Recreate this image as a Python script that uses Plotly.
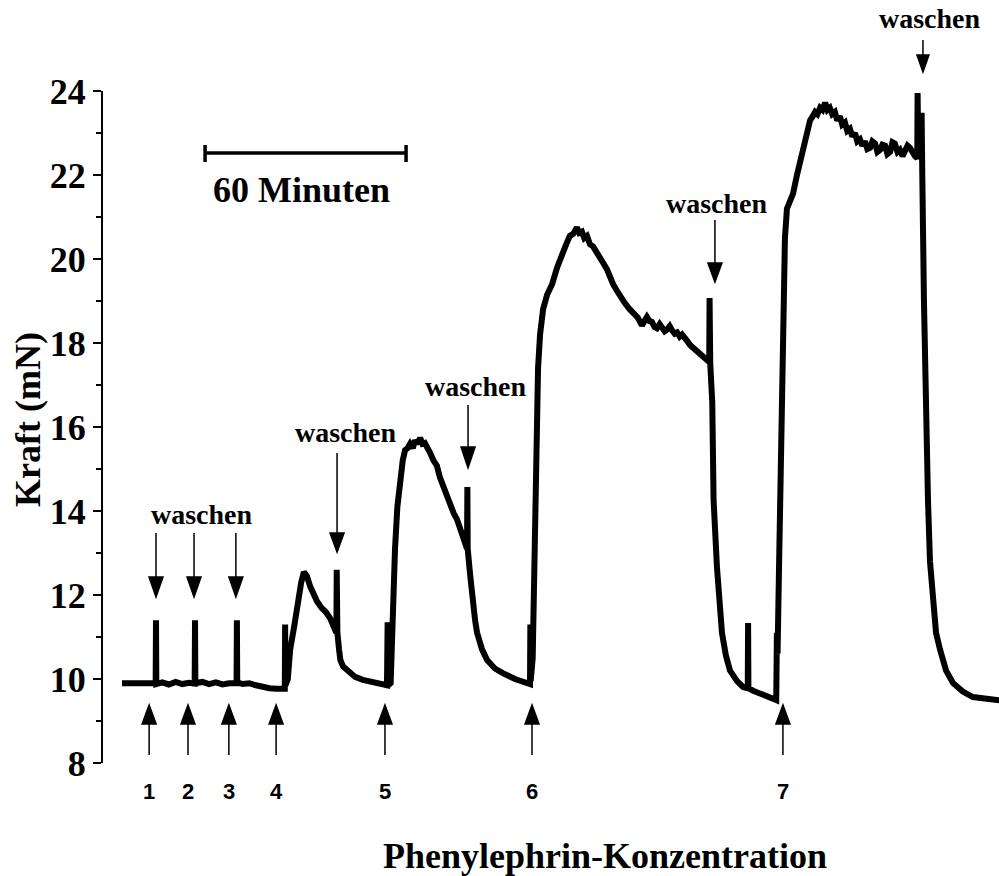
import plotly.graph_objects as go

# ---------------- data ----------------
time_min = [
    0, 2, 4, 6, 8, 10.05, 10.15, 10.25, 12, 14, 16, 18, 20, 21.7, 21.8, 21.9,
    24, 26, 28, 30, 32, 34.2, 34.3, 34.4, 36, 38, 40, 42, 44, 46, 48.6, 48.7,
    48.8, 49.5, 50.2, 51.5, 52.5, 53.5, 54.3, 55.2, 56.2, 57.3, 58.2, 59.5,
    60.8, 62.1, 63.2, 64.0, 64.1, 64.3, 64.8, 65.2, 66.0, 67.2, 69.6, 71.9,
    75.5, 79.1, 79.3, 79.5, 80.2, 80.8, 81.5, 82.2, 83.0, 83.8, 84.5, 85.3,
    86.0, 86.8, 87.5, 88.2, 89.0, 89.7, 90.4, 91.2, 91.9, 93.0, 94.0, 94.9,
    95.8, 96.8, 97.9, 99.0, 100.0, 100.9, 101.8, 102.6, 103.0, 103.1, 103.2,
    103.9, 104.5, 105.4, 106.0, 107.5, 109.0, 111.3, 113.7, 117.3, 121.8,
    121.9, 122.0, 122.6, 123.0, 123.3, 123.9, 124.2, 124.8, 125.7, 126.9,
    128.4, 129.9, 131.6, 132.6, 133.7, 134.7, 135.8, 136.5, 137.3, 138.0,
    138.8, 139.7, 140.6, 141.6, 142.7, 143.7, 144.8, 145.7, 146.6, 147.7,
    148.7, 150.1, 151.6, 152.8, 154.0, 155.2, 156.0, 156.7, 157.5, 158.2,
    159.0, 159.7, 160.5, 161.2, 162.0, 162.7, 163.5, 164.2, 165.0, 165.7,
    166.5, 167.2, 168.0, 168.7, 169.6, 170.4, 171.5, 172.5, 173.6, 174.6,
    175.3, 175.4, 175.6, 176.2, 176.6, 177.6, 178.2, 179.1, 180.3, 181.5,
    183.6, 185.4, 186.8, 186.9, 187.0, 188.4, 190.4, 193.4, 195.3, 195.5,
    195.7, 196.1, 196.4, 197.0, 197.3, 197.9, 198.5, 199.4, 200.3, 201.5,
    202.4, 203.3, 204.5, 205.4, 206.2, 206.9, 207.6, 208.4, 209.1, 209.9,
    210.6, 211.3, 212.0, 212.8, 213.5, 214.3, 215.0, 215.8, 216.5, 217.3,
    218.0, 218.8, 219.5, 220.3, 221.0, 221.8, 222.5, 223.3, 224.0, 224.8,
    225.5, 226.3, 227.0, 227.8, 228.5, 229.3, 230.0, 230.7, 231.5, 232.2,
    233.0, 233.7, 234.5, 235.2, 236.0, 236.7, 237.4, 237.5, 237.7, 238.6,
    238.7, 238.9, 239.4, 240.0, 240.6, 241.2, 242.1, 243.0, 244.2, 246.0,
    248.1, 251.0, 254.0, 257.6, 261.8, 264.0,
]
force_mN = [
    9.9, 9.9, 9.9, 9.9, 9.9, 9.9, 11.4, 9.88, 9.92, 9.87, 9.93, 9.88, 9.91, 9.89, 11.4, 9.9,
    9.93, 9.88, 9.92, 9.87, 9.9, 9.9, 11.4, 9.92, 9.88, 9.9, 9.85, 9.8, 9.78, 9.77, 9.77, 11.3,
    9.85, 10.0, 10.7, 11.3, 11.85, 12.3, 12.55, 12.45, 12.2, 11.95, 11.85, 11.7,
    11.6, 11.45, 11.2, 11.1, 12.6, 11.1, 10.7, 10.45, 10.3, 10.2, 10.05, 9.98,
    9.92, 9.85, 11.35, 9.85, 9.9, 11.8, 13.1, 14.1, 14.75, 15.2, 15.45, 15.5,
    15.6, 15.5, 15.68, 15.6, 15.74, 15.6, 15.62, 15.45, 15.4, 15.2, 15.08, 14.8,
    14.6, 14.4, 14.2, 13.95, 13.8, 13.6, 13.42, 13.2, 13.1, 14.57, 13.1,
    12.5, 11.95, 11.4, 11.1, 10.7, 10.45, 10.25, 10.14, 10.0, 9.88,
    11.3, 9.95, 10.5, 12.5, 14.26, 16.5, 17.4, 18.2, 18.8, 19.15,
    19.4, 19.8, 20.2, 20.35, 20.55, 20.6, 20.75, 20.62, 20.65, 20.5,
    20.55, 20.35, 20.3, 20.15, 20.0, 19.9, 19.75, 19.55, 19.4, 19.25,
    19.1, 18.95, 18.8, 18.72, 18.6, 18.42, 18.5, 18.62, 18.52, 18.5,
    18.38, 18.35, 18.45, 18.36, 18.28, 18.32, 18.4, 18.3, 18.22, 18.25,
    18.15, 18.2, 18.08, 18.05, 17.95, 17.9, 17.82, 17.75, 17.68, 17.6,
    17.55, 19.07, 17.5, 16.6, 14.26, 12.67, 11.9, 11.1, 10.55, 10.2,
    9.95, 9.81, 9.78, 11.33, 9.78, 9.72, 9.65, 9.57, 9.5, 11.1,
    10.6, 12.5, 14.26, 17.5, 19.0, 20.5, 21.2, 21.4, 21.55, 22.0,
    22.3, 22.6, 23.0, 23.3, 23.4, 23.5, 23.45, 23.6, 23.55, 23.72,
    23.55, 23.6, 23.45, 23.5, 23.3, 23.4, 23.2, 23.25, 23.05, 23.1,
    22.92, 23.0, 22.8, 22.85, 22.7, 22.8, 22.62, 22.65, 22.8, 22.75,
    22.55, 22.6, 22.72, 22.7, 22.5, 22.55, 22.78, 22.75, 22.55, 22.6,
    22.45, 22.55, 22.7, 22.65, 22.5, 22.45, 22.4, 23.95, 22.5, 22.4,
    23.48, 22.0, 19.0, 16.0, 14.26, 12.8, 11.9, 11.1, 10.7, 10.2,
    9.9, 9.7, 9.57, 9.52, 9.48, 9.47,
]

dose_labels = ["1", "2", "3", "4", "5", "6", "7"]
dose_times = [8.1, 19.7, 31.9, 46.0, 78.5, 122.4, 197.3]
wash_times = [10.15, 21.5, 34.0, 64.2, 103.3, 177.0, 239.1]
wash_label = "waschen"
y_ticks = [8, 10, 12, 14, 16, 18, 20, 22, 24]
y_minor = [9, 11, 13, 15, 17, 19, 21, 23]
scale_bar_start = 24.8
scale_bar_minutes = 60
y_title = "Kraft (mN)"
x_title = "Phenylephrin-Konzentration"
scale_label = "60 Minuten"

# ---------------- geometry / style ----------------
W, H = 999, 876
L, R, T, B = 103, 999, 91, 763
X_RANGE = [-5.67, 261.8]
Y_RANGE = [8, 24]
SERIF = "Liberation Serif"
SANS = "Liberation Sans"


def xp(px):
    return (px - L) / (R - L)


def yp(py):
    return (B - py) / (B - T)


fig = go.Figure()
fig.add_trace(go.Scatter(x=time_min, y=force_mN, mode="lines",
                         line=dict(color="black", width=6),
                         hoverinfo="skip", showlegend=False))

shapes = []
annotations = []

# dose arrows (pointing up) + numbers
for t, lab in zip(dose_times, dose_labels):
    shapes.append(dict(type="path", xref="x", yref="paper",
                       xsizemode="pixel", ysizemode="pixel",
                       xanchor=t, yanchor=yp(755),
                       path="M0,0 V31 M-7,31 H7 L0,50 Z",
                       line=dict(color="black", width=1.5),
                       fillcolor="black", layer="above"))
    annotations.append(dict(x=t, y=yp(791), xref="x", yref="paper",
                            text=lab, showarrow=False,
                            xanchor="center", yanchor="middle",
                            font=dict(family=SANS, size=22, color="black",
                                      weight="bold")))

# wash arrows (pointing down): (shaft top py, head base offset, tip offset, half width)
wash_geom = [
    (533, 44, 64, 7), (533, 44, 64, 7), (533, 44, 64, 7),
    (453, 80, 99, 7), (405, 42, 63, 7), (220, 43, 62, 7), (40, 15, 32, 6),
]
for t, (top, hb, tip, hw) in zip(wash_times, wash_geom):
    shapes.append(dict(type="path", xref="x", yref="paper",
                       xsizemode="pixel", ysizemode="pixel",
                       xanchor=t, yanchor=yp(top),
                       path=f"M0,0 V{-hb} M{-hw},{-hb} H{hw} L0,{-tip} Z",
                       line=dict(color="black", width=1.5),
                       fillcolor="black", layer="above"))

# wash labels (pixel positions)
for px, py in [(202, 514), (346, 432), (476, 386), (717, 204), (930, 19)]:
    annotations.append(dict(x=xp(px), y=yp(py), xref="paper", yref="paper",
                            text=wash_label, showarrow=False,
                            xanchor="center", yanchor="middle",
                            font=dict(family=SERIF, size=28, color="black",
                                      weight="bold")))

# scale bar
sb_y = yp(153)
shapes.append(dict(type="line", xref="x", yref="paper",
                   x0=scale_bar_start, x1=scale_bar_start + scale_bar_minutes,
                   y0=sb_y, y1=sb_y, line=dict(color="black", width=3.5)))
for xe in (scale_bar_start, scale_bar_start + scale_bar_minutes):
    shapes.append(dict(type="line", xref="x", yref="paper",
                       x0=xe, x1=xe, y0=yp(145), y1=yp(162),
                       line=dict(color="black", width=3.5)))
annotations.append(dict(x=xp(301), y=yp(190), xref="paper", yref="paper",
                        text=scale_label, showarrow=False,
                        xanchor="center", yanchor="middle",
                        font=dict(family=SERIF, size=36, color="black",
                                  weight="bold")))

# axis titles
annotations.append(dict(x=xp(28), y=yp(420), xref="paper", yref="paper",
                        text=y_title, showarrow=False, textangle=-90,
                        xanchor="center", yanchor="middle",
                        font=dict(family=SERIF, size=36, color="black",
                                  weight="bold")))
annotations.append(dict(x=xp(605), y=yp(856), xref="paper", yref="paper",
                        text=x_title, showarrow=False,
                        xanchor="center", yanchor="middle",
                        font=dict(family=SERIF, size=36, color="black",
                                  weight="bold")))

fig.update_layout(
    template="none",
    width=W, height=H, autosize=False,
    margin=dict(l=L, r=W - R, t=T, b=H - B, pad=0),
    paper_bgcolor="white", plot_bgcolor="white",
    showlegend=False,
    xaxis=dict(range=X_RANGE, visible=False, automargin=False,
               showgrid=False, zeroline=False),
    yaxis=dict(range=Y_RANGE, tickmode="array", tickvals=y_ticks,
               ticks="outside", ticklen=8, tickwidth=2, tickcolor="black",
               showline=True, linewidth=2, linecolor="black",
               showgrid=False, zeroline=False, automargin=False,
               tickfont=dict(family=SERIF, size=36, color="black",
                             weight="bold"),
               minor=dict(tickmode="array", tickvals=y_minor,
                          ticks="outside", ticklen=5, tickwidth=2,
                          tickcolor="black", showgrid=False)),
    shapes=shapes,
    annotations=annotations,
)

fig.write_html(
    "out.html",
    config={"displayModeBar": False, "staticPlot": True},
    post_script="document.body.style.margin='0px';"
                "document.body.style.overflow='hidden';",
)
